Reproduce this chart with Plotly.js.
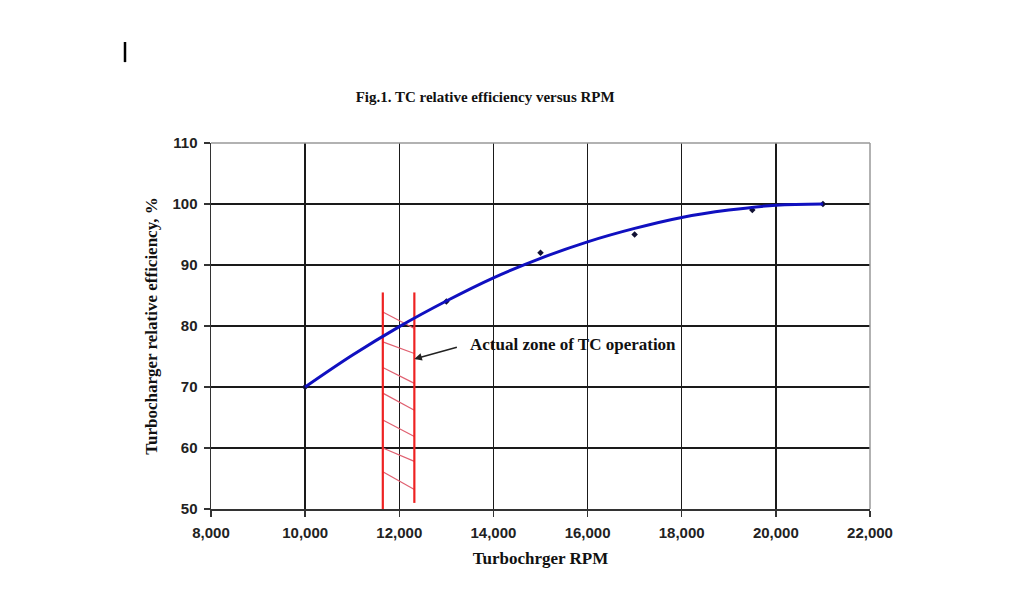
<!DOCTYPE html>
<html>
<head>
<meta charset="utf-8">
<script src="https://cdn.plot.ly/plotly-3.0.1.min.js"></script>
<style>html,body{margin:0;padding:0;background:#fff;}</style>
</head>
<body>
<div id="chart" style="width:1024px;height:599px;"></div>
<script>
// Measured points (RPM, relative efficiency %)
const pointRpm = [10000, 13000, 15000, 17000, 19500, 21000];
const pointEff = [70, 84, 92, 95, 99, 100];

// Trend curve
const curveRpm = [10000, 11000, 12000, 13000, 14000, 15000, 16000, 17000, 18000, 19000, 20000, 21000];
const curveEff = [70, 75.2, 79.9, 84.1, 87.9, 91.1, 93.8, 96.0, 97.8, 99.0, 99.8, 100];

// Actual zone of TC operation (hatched band)
const zoneLeftRpm = 11650;
const zoneRightRpm = 12320;
const zoneTop = 85.5;
const zoneLeftBottom = 50;
const zoneRightBottom = 51;
const hatchLeftEff  = [82.3, 77.4, 73.2, 69.0, 64.6, 60.0, 56.1];
const hatchRightEff = [79.6, 75.5, 70.6, 66.2, 61.9, 57.8, 53.2];

// Axis ticks
const xTicks = [8000, 10000, 12000, 14000, 16000, 18000, 20000, 22000];
const xTickLabels = ['8,000', '10,000', '12,000', '14,000', '16,000', '18,000', '20,000', '22,000'];
const yTicks = [50, 60, 70, 80, 90, 100, 110];

const titleText = 'Fig.1. TC relative efficiency versus RPM';
const xTitle = 'Turbochrger RPM';
const yTitle = 'Turbocharger relative efficiency, %';
const zoneLabel = 'Actual zone of TC operation';

// Build zone line trace
const zoneX = [zoneLeftRpm, zoneLeftRpm, null, zoneRightRpm, zoneRightRpm, null];
const zoneY = [zoneTop, zoneLeftBottom, null, zoneTop, zoneRightBottom, null];
const hatchX = [], hatchY = [];
for (let i = 0; i < hatchLeftEff.length; i++) {
  hatchX.push(zoneLeftRpm, zoneRightRpm, null);
  hatchY.push(hatchLeftEff[i], hatchRightEff[i], null);
}

const serif = 'Liberation Serif, Times New Roman, serif';
const sans = 'Liberation Sans, Arial, sans-serif';

const traces = [
  {x: hatchX, y: hatchY, mode: 'lines', line: {color: '#e06070', width: 1.2}, hoverinfo: 'skip', cliponaxis: false},
  {x: zoneX, y: zoneY, mode: 'lines', line: {color: '#ee2222', width: 2.2}, hoverinfo: 'skip', cliponaxis: false},
  {x: pointRpm, y: pointEff, mode: 'markers', marker: {symbol: 'diamond', size: 5, color: '#111133'}, cliponaxis: false},
  {x: curveRpm, y: curveEff, mode: 'lines', line: {color: '#1010c0', width: 3, shape: 'spline'}, cliponaxis: false}
];

const layout = {
  width: 1024, height: 599,
  margin: {l: 211, r: 154, t: 143, b: 90},
  paper_bgcolor: '#ffffff', plot_bgcolor: '#ffffff',
  showlegend: false,
  title: {text: '<b>' + titleText + '</b>', font: {family: serif, size: 15, color: '#111'},
          xref: 'paper', x: 0.416, xanchor: 'center', yref: 'container', y: 1 - 97/599, yanchor: 'middle'},
  xaxis: {
    range: [8000, 22000], tickvals: xTicks, ticktext: xTickLabels,
    showgrid: true, gridcolor: '#1a1a1a', gridwidth: 1.4,
    showline: true, linecolor: '#333', linewidth: 1.5,
    ticks: 'outside', ticklen: 6, tickcolor: '#333', tickwidth: 1.5,
    tickfont: {family: sans, size: 15, color: '#222', weight: 'bold'},
    ticklabelstandoff: 3,
    zeroline: false,
    title: {text: '<b>' + xTitle + '</b>', font: {family: serif, size: 17, color: '#111'}, standoff: 12}
  },
  yaxis: {
    range: [50, 110], tickvals: yTicks,
    showgrid: true, gridcolor: '#1a1a1a', gridwidth: 1.4,
    showline: true, linecolor: '#333', linewidth: 1.5,
    ticks: 'outside', ticklen: 6, tickcolor: '#333', tickwidth: 1.5,
    tickfont: {family: sans, size: 15, color: '#222', weight: 'bold'},
    ticklabelstandoff: 3,
    zeroline: false,
    title: {text: '<b>' + yTitle + '</b>', font: {family: serif, size: 17, color: '#111'}, standoff: 10}
  },
  shapes: [
    {type: 'line', xref: 'paper', yref: 'paper', x0: 0, x1: 1, y0: 1, y1: 1, line: {color: '#999', width: 1.5}},
    {type: 'line', xref: 'paper', yref: 'paper', x0: 1, x1: 1, y0: 0, y1: 1, line: {color: '#999', width: 1.5}},
    {type: 'line', xref: 'paper', yref: 'paper', x0: -0.1305, x1: -0.1305, y0: 1.221, y1: 1.276, line: {color: '#000', width: 2.5}}
  ],
  annotations: [
    {x: 12320, y: 74.6, xref: 'x', yref: 'y', ax: 13255, ay: 76.6, axref: 'x', ayref: 'y',
     text: '', showarrow: true, arrowhead: 2, arrowsize: 1, arrowwidth: 1.5, arrowcolor: '#222'},
    {x: 13450, y: 77.0, xref: 'x', yref: 'y', xanchor: 'left', yanchor: 'middle', showarrow: false,
     text: '<b>' + zoneLabel + '</b>', font: {family: serif, size: 17, color: '#111'}}
  ]
};

Plotly.newPlot('chart', traces, layout, {displayModeBar: false, staticPlot: true});
</script>
</body>
</html>
